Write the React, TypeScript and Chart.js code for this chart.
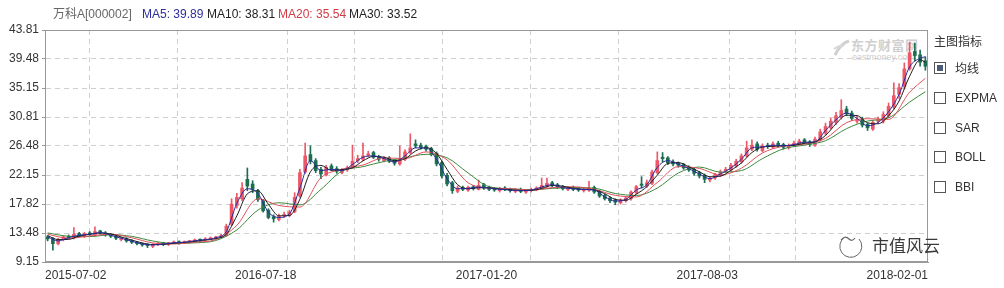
import React, { useEffect, useRef } from 'react';
import { Chart, registerables } from 'chart.js';

Chart.register(...registerables);

// ---------- data ----------
const stockName = '万科A[000002]';
const maNames = ['MA5', 'MA10', 'MA20', 'MA30'];
const maLatest = ['39.89', '38.31', '35.54', '33.52'];
const indicatorTitle = '主图指标';
const indicators = ['均线', 'EXPMA', 'SAR', 'BOLL', 'BBI'];
const dateLabels = ['2015-07-02', '2016-07-18', '2017-01-20', '2017-08-03', '2018-02-01'];
const yTickLabels = ['9.15', '13.48', '17.82', '22.15', '26.48', '30.81', '35.15', '39.48', '43.81'];
const yMin = 9.15;
const yMax = 43.81;

const opens = [
  12.9, 12.6, 11.9, 12.5, 13.0, 12.8, 13.4, 13.0, 13.5, 13.2,
  13.8, 13.5, 13.2, 13.0, 12.5, 12.6, 12.3, 12.1, 11.9, 11.8,
  11.5, 11.8, 12.0, 11.8, 12.0, 12.2, 12.0, 12.2, 12.3, 12.5,
  12.4, 12.6, 12.7, 12.9, 13.1, 14.8, 17.6, 18.6, 21.5, 20.8,
  19.8, 18.3, 16.9, 15.9, 15.5, 16.1, 16.1, 16.7, 19.0, 22.6,
  25.2, 24.3, 23.0, 22.2, 23.5, 23.1, 22.5, 22.9, 23.3, 24.3,
  24.5, 25.1, 25.5, 24.9, 24.3, 24.7, 24.3, 23.8, 24.5, 25.5,
  26.8, 26.6, 26.4, 26.1, 25.4, 24.0, 22.1, 21.0, 19.7, 20.3,
  19.9, 20.4, 20.0, 20.7, 20.3, 20.1, 19.8, 20.2, 20.0, 19.7,
  20.0, 19.6, 19.8, 19.9, 20.2, 20.5, 21.0, 20.7, 20.4, 20.0,
  20.3, 20.1, 19.8, 19.9, 20.3, 19.7, 19.1, 18.7, 18.4, 18.0,
  18.3, 18.6, 19.5, 20.8, 20.5, 20.9, 22.5, 24.8, 24.7, 24.1,
  23.9, 23.7, 23.3, 23.0, 22.5, 22.1, 21.4, 21.7, 22.1, 22.7,
  22.9, 23.5, 24.1, 25.0, 26.0, 26.8, 25.8, 26.6, 26.3, 26.9,
  26.7, 26.2, 26.6, 26.8, 27.4, 27.1, 26.6, 27.4, 28.4, 29.2,
  30.0, 30.8, 32.0, 31.4, 30.2, 30.5, 29.7, 29.0, 30.2, 30.2,
  31.0, 32.3, 34.2, 35.4, 38.0, 40.6, 40.1, 39.2,
];
const closes = [
  12.6, 11.9, 12.5, 12.9, 12.8, 13.3, 13.1, 13.4, 13.3, 13.7,
  13.5, 13.2, 13.0, 12.7, 12.6, 12.3, 12.1, 11.9, 11.7, 11.6,
  11.8, 11.9, 11.8, 12.0, 12.1, 12.0, 12.2, 12.3, 12.4, 12.4,
  12.6, 12.7, 12.9, 13.1, 14.5, 17.8, 18.8, 20.2, 20.5, 20.0,
  18.5, 16.8, 15.8, 15.6, 16.0, 16.2, 16.6, 18.8, 22.5, 25.0,
  24.2, 22.8, 22.3, 23.3, 23.0, 22.7, 22.8, 23.2, 24.2, 24.6,
  25.0, 25.3, 24.8, 24.5, 24.6, 24.2, 23.9, 24.6, 25.6, 26.2,
  26.5, 26.3, 26.0, 25.3, 23.8, 22.0, 20.8, 19.8, 20.2, 20.0,
  20.3, 20.1, 20.6, 20.2, 20.0, 19.9, 20.1, 20.0, 19.8, 19.9,
  19.7, 19.8, 20.0, 20.2, 20.6, 20.9, 20.6, 20.3, 20.1, 20.2,
  20.0, 19.9, 20.0, 20.2, 19.6, 19.0, 18.6, 18.3, 18.1, 18.4,
  18.7, 19.6, 20.4, 20.6, 21.0, 22.6, 24.3, 24.6, 24.0, 23.8,
  23.6, 23.2, 22.9, 22.4, 22.0, 21.5, 21.6, 22.2, 22.6, 23.0,
  23.6, 24.2, 25.0, 26.2, 26.6, 26.0, 26.5, 26.4, 26.8, 26.6,
  26.3, 26.5, 26.9, 27.2, 27.0, 26.7, 27.5, 28.6, 29.4, 30.2,
  31.0, 31.8, 31.3, 30.6, 30.4, 29.6, 29.2, 30.0, 30.4, 31.2,
  32.4, 34.0, 35.2, 38.0, 40.4, 40.0, 39.0, 38.4,
];
const highs = [
  13.1, 12.8, 12.7, 13.1, 13.2, 14.3, 13.6, 13.6, 13.7, 14.4,
  13.9, 13.7, 13.4, 13.1, 12.9, 12.8, 12.5, 12.2, 12.0, 11.9,
  11.9, 12.1, 12.1, 12.1, 12.3, 12.3, 12.3, 12.4, 12.6, 12.6,
  12.8, 12.9, 13.0, 13.3, 14.8, 18.6, 19.4, 21.0, 23.2, 21.3,
  20.0, 18.5, 17.1, 16.2, 16.3, 16.6, 16.9, 19.5, 23.0, 26.9,
  26.5, 24.6, 23.3, 23.6, 23.8, 23.4, 23.1, 23.5, 26.6, 25.1,
  26.9, 25.7, 25.7, 25.1, 24.9, 24.9, 24.5, 26.5, 25.9, 28.3,
  27.4, 26.9, 26.6, 26.3, 25.6, 24.2, 22.4, 21.2, 20.5, 20.5,
  20.5, 20.6, 21.4, 20.9, 20.5, 20.3, 20.3, 20.4, 20.2, 20.1,
  20.2, 20.0, 20.2, 20.4, 21.7, 21.7, 21.2, 20.9, 20.6, 20.4,
  20.5, 20.3, 20.2, 21.2, 20.5, 19.9, 19.3, 18.9, 18.6, 18.6,
  18.9, 19.8, 20.6, 21.9, 21.4, 22.9, 25.6, 25.5, 24.9, 24.4,
  24.1, 23.9, 23.5, 23.2, 22.7, 22.3, 21.9, 22.4, 22.9, 23.3,
  23.9, 24.5, 25.3, 27.2, 27.4, 27.1, 26.8, 26.9, 27.1, 27.2,
  26.9, 26.8, 27.2, 27.5, 27.6, 27.3, 27.8, 29.0, 29.9, 30.6,
  31.5, 33.4, 32.4, 31.7, 30.9, 30.8, 29.9, 30.3, 30.8, 31.6,
  32.9, 35.9, 35.8, 38.9, 42.0, 41.8, 40.8, 39.8,
];
const lows = [
  12.3, 10.9, 11.7, 12.3, 12.6, 12.6, 12.9, 12.8, 13.1, 13.0,
  13.3, 13.0, 12.8, 12.5, 12.3, 12.1, 11.9, 11.7, 11.5, 11.3,
  11.3, 11.6, 11.6, 11.6, 11.9, 11.8, 11.9, 12.0, 12.1, 12.2,
  12.3, 12.5, 12.6, 12.8, 13.0, 14.6, 17.2, 18.3, 19.8, 19.5,
  18.2, 16.6, 15.6, 15.1, 15.3, 15.8, 15.9, 16.5, 18.8, 22.4,
  23.8, 22.5, 21.6, 22.0, 22.8, 22.4, 22.3, 22.7, 23.1, 24.0,
  24.3, 24.9, 24.6, 24.2, 24.1, 24.0, 23.6, 23.6, 24.3, 25.3,
  26.2, 26.0, 25.7, 25.0, 23.5, 21.7, 20.5, 19.4, 19.5, 19.8,
  19.7, 19.9, 19.9, 20.0, 19.8, 19.7, 19.6, 19.8, 19.6, 19.5,
  19.5, 19.4, 19.6, 19.8, 20.0, 20.3, 20.4, 20.1, 19.9, 19.8,
  19.8, 19.7, 19.6, 19.7, 19.4, 18.8, 18.4, 18.0, 17.7, 17.8,
  18.1, 18.4, 19.3, 20.2, 20.3, 20.7, 22.3, 24.1, 23.7, 23.5,
  23.3, 23.0, 22.7, 22.1, 21.7, 21.0, 21.1, 21.5, 21.9, 22.5,
  22.7, 23.3, 23.9, 24.8, 25.8, 25.7, 25.6, 26.1, 26.1, 26.3,
  26.0, 26.0, 26.4, 26.6, 26.8, 26.4, 26.4, 27.2, 28.1, 29.0,
  29.7, 30.5, 31.0, 30.3, 29.9, 29.3, 28.8, 28.8, 29.9, 29.9,
  30.7, 32.0, 33.6, 35.0, 37.8, 39.2, 38.4, 37.8,
];

// fast moving averages (MA5, MA10), read every 2 candles
const maFastIndex = [
  0, 2, 4, 6, 8, 10, 12, 14, 16, 18, 20, 22, 24, 26, 28, 30, 32, 34, 36, 38,
  40, 42, 44, 46, 48, 50, 52, 54, 56, 58, 60, 62, 64, 66, 68, 70, 72, 74, 76, 78,
  80, 82, 84, 86, 88, 90, 92, 94, 96, 98, 100, 102, 104, 106, 108, 110, 112, 114, 116, 118,
  120, 122, 124, 126, 128, 130, 132, 134, 136, 138, 140, 142, 144, 146, 148, 150, 152, 154, 156, 158,
  160, 162, 164, 166, 167,
];
const ma5 = [
  12.9, 12.3, 12.8, 13.15, 13.3, 13.55, 13.15, 12.7, 12.25, 11.85, 11.7, 11.85, 12.03, 12.1, 12.33, 12.5, 12.78, 13.7, 17.9, 20.1,
  19.4, 16.6, 15.8, 16.35, 20.2, 24.3, 22.8, 23.0, 22.8, 23.7, 24.8, 25.0, 24.6, 24.1, 25.0, 26.2, 26.2, 24.5, 21.6, 20.1,
  20.15, 20.35, 20.2, 20.0, 19.9, 19.8, 19.9, 20.35, 20.7, 20.25, 20.1, 19.97, 19.9, 18.9, 18.25, 18.5, 19.9, 20.7, 23.3, 24.3,
  23.75, 23.1, 22.3, 21.6, 22.3, 23.2, 24.5, 26.2, 26.35, 26.6, 26.5, 26.7, 27.05, 27.1, 28.8, 30.4, 31.4, 30.6, 29.5, 30.0,
  31.6, 34.2, 38.3, 39.6, 39.8,
];
const ma10 = [
  13.1, 12.5, 12.53, 13.03, 13.28, 13.48, 13.35, 12.88, 12.43, 12.0, 11.75, 11.78, 11.95, 12.08, 12.23, 12.43, 12.65, 13.3, 16.05, 19.33,
  19.8, 17.78, 16.05, 16.1, 18.53, 22.63, 23.58, 22.85, 22.95, 23.23, 24.25, 24.93, 24.8, 24.3, 24.58, 25.73, 26.25, 25.35, 22.98, 20.7,
  20.08, 20.25, 20.23, 20.05, 19.95, 19.85, 19.85, 20.15, 20.58, 20.48, 20.15, 20.03, 19.93, 19.35, 18.5, 18.38, 19.28, 20.4, 22.13, 23.88,
  24.0, 23.38, 22.63, 21.88, 21.98, 22.85, 23.95, 25.5, 26.33, 26.43, 26.53, 26.58, 26.9, 27.1, 28.05, 29.8, 31.08, 31.03, 29.95, 29.8,
  31.0, 33.2, 36.9, 39.35, 39.0,
];

// slow moving averages (MA20, MA30), read every 4 candles
const maSlowIndex = [
  0, 4, 8, 12, 16, 20, 24, 28, 32, 36,
  40, 44, 48, 52, 56, 60, 64, 68, 72, 76,
  80, 84, 88, 92, 96, 100, 104, 108, 112, 116,
  120, 124, 128, 132, 136, 140, 144, 148, 152, 156,
  160, 164, 167,
];
const ma20 = [
  13.3, 12.7, 13.04, 13.31, 12.77, 12.0, 11.84, 12.11, 12.5, 14.63,
  18.6, 17.6, 17.36, 21.74, 23.0, 23.64, 24.71, 24.6, 25.59, 24.39,
  20.99, 20.2, 20.09, 19.9, 20.26, 20.39, 20.0, 19.11, 18.87, 21.03,
  23.41, 23.13, 22.17, 23.17, 25.44, 26.46, 26.76, 27.61, 29.97, 30.56,
  30.46, 34.51, 36.6,
];
const ma30 = [
  13.5, 13.0, 12.95, 13.22, 12.98, 12.29, 11.92, 12.01, 12.36, 13.95,
  16.9, 18.0, 17.68, 20.0, 22.74, 23.39, 24.17, 24.71, 25.24, 24.71,
  22.45, 20.4, 20.1, 19.94, 20.15, 20.27, 20.18, 19.39, 19.09, 20.2,
  22.45, 23.34, 22.58, 22.81, 24.59, 26.06, 26.62, 27.27, 29.07, 30.21,
  30.69, 33.04, 34.6,
];

// ---------- styles ----------
const FONT = '"Liberation Sans", Arial, "Noto Sans CJK SC", sans-serif';
const CJK = '"Noto Sans CJK SC", "Liberation Sans", sans-serif';
const UP = '#ec5868';
const DOWN = '#1d6e51';
const MA_COLORS = ['#2a2a9e', '#1c1c1c', '#e0505a', '#3d8a3d'];
const LEGEND_COLORS = ['#2d2d9e', '#222222', '#d23a44', '#222222'];
const GRID = '#cfcfcf';
const FRAME = '#999999';

const framePlugin = {
  id: 'frame',
  afterDatasetsDraw(chart: any) {
    const { ctx, chartArea } = chart;
    const l = Math.round(chartArea.left) + 0.5;
    const t = Math.round(chartArea.top) + 0.5;
    const r = Math.round(chartArea.right) - 0.5;
    const b = Math.round(chartArea.bottom) - 0.5;
    ctx.save();
    ctx.strokeStyle = FRAME;
    ctx.lineWidth = 1;
    ctx.strokeRect(l, t, r - l, b - t);
    ctx.restore();
  },
};

export default function App() {
  const ref = useRef<HTMLCanvasElement | null>(null);

  useEffect(() => {
    if (!ref.current) return;
    const N = closes.length;
    const span = N;
    const xMin = -0.5;
    const xTicks: { value: number; label: string; grid: boolean }[] = [];
    for (let k = 0; k <= 10; k++) {
      xTicks.push({ value: xMin + (span * k) / 10, label: '', grid: k > 0 && k < 10 });
    }
    dateLabels.forEach((lab, j) => {
      const v = xMin + (span * j) / (dateLabels.length - 1);
      const hit = xTicks.find((t) => Math.abs(t.value - v) < 1e-6);
      if (hit) hit.label = lab;
      else xTicks.push({ value: v, label: lab, grid: false });
    });
    xTicks.sort((a, b) => a.value - b.value);

    const colors = closes.map((c, i) => (c >= opens[i] ? UP : DOWN));
    const maSeries = [
      { idx: maFastIndex, vals: ma5 },
      { idx: maFastIndex, vals: ma10 },
      { idx: maSlowIndex, vals: ma20 },
      { idx: maSlowIndex, vals: ma30 },
    ];

    const chart = new Chart(ref.current, {
      type: 'bar',
      data: {
        datasets: [
          ...maSeries.map((s, m) => ({
            type: 'line' as const,
            label: maNames[m],
            data: s.idx.map((x, k) => ({ x, y: s.vals[k] })),
            borderColor: MA_COLORS[m],
            borderWidth: 1,
            pointRadius: 0,
            cubicInterpolationMode: 'monotone' as const,
            order: 0,
          })),
          {
            type: 'bar' as const,
            label: 'wick',
            data: closes.map((_, i) => ({ x: i, y: [lows[i], highs[i]] })),
            backgroundColor: colors,
            barThickness: 1,
            grouped: false,
            order: 2,
          },
          {
            type: 'bar' as const,
            label: 'body',
            data: closes.map((c, i) => ({ x: i, y: [opens[i], c] })),
            backgroundColor: colors,
            barThickness: 3,
            minBarLength: 1,
            grouped: false,
            order: 1,
          },
        ] as any,
      },
      options: {
        responsive: false,
        animation: false,
        events: [],
        layout: { padding: { top: 30, right: 76, left: 0, bottom: 0 } },
        plugins: { legend: { display: false }, tooltip: { enabled: false }, title: { display: false } },
        scales: {
          x: {
            type: 'linear',
            min: xMin,
            max: N - 0.5,
            offset: false,
            afterBuildTicks: (s: any) => {
              s.ticks = xTicks.map((t) => ({ value: t.value }));
            },
            afterFit: (s: any) => {
              s.height = 26;
            },
            grid: {
              color: (c: any) => (xTicks[c.index] && xTicks[c.index].grid ? GRID : 'rgba(0,0,0,0)'),
              lineWidth: 1,
              drawTicks: false,
            },
            border: { display: true, color: FRAME, dash: [5, 4] },
            ticks: {
              autoSkip: false,
              maxRotation: 0,
              minRotation: 0,
              align: 'inner',
              padding: 6,
              color: '#333',
              font: { family: FONT, size: 12 },
              callback: (_v: any, i: number) => (xTicks[i] ? xTicks[i].label : ''),
            },
          },
          y: {
            type: 'linear',
            min: yMin,
            max: yMax,
            afterBuildTicks: (s: any) => {
              s.ticks = yTickLabels.map((_, k) => ({
                value: yMin + ((yMax - yMin) * k) / (yTickLabels.length - 1),
              }));
            },
            afterFit: (s: any) => {
              s.width = 45;
            },
            grid: {
              color: (c: any) => (c.index === 0 || c.index === yTickLabels.length - 1 ? 'rgba(0,0,0,0)' : GRID),
              lineWidth: 1,
              drawTicks: true,
              tickLength: 3,
              tickColor: FRAME,
            },
            border: { display: true, color: FRAME, dash: [5, 4] },
            ticks: {
              padding: 3,
              color: '#333',
              font: { family: FONT, size: 12 },
              callback: (_v: any, i: number) => yTickLabels[i],
            },
          },
        },
      } as any,
      plugins: [framePlugin],
    });
    return () => chart.destroy();
  }, []);

  const legendX = [53, 142, 207, 278, 349];
  const itemY = [68, 98, 128, 157, 187];

  return (
    <div
      style={{
        position: 'fixed',
        left: 0,
        top: 0,
        width: 1004,
        height: 288,
        background: '#fff',
        overflow: 'hidden',
        fontFamily: FONT,
      }}
    >
      {/* watermark */}
      <div style={{ position: 'absolute', left: 832, top: 37, width: 90, height: 26, color: '#cfcfcf' }}>
        <svg width="18" height="20" style={{ position: 'absolute', left: 0, top: 2 }}>
          <path d="M3 16 Q9 4 17 2" stroke="#d0d0d0" strokeWidth="3" fill="none" />
          <path d="M2 10 Q7 6 12 7" stroke="#d8d8d8" strokeWidth="2" fill="none" />
        </svg>
        <div style={{ position: 'absolute', left: 19, top: 0, fontFamily: CJK, fontSize: 13, fontWeight: 700, lineHeight: '15px', letterSpacing: 0.5, whiteSpace: 'nowrap' }}>
          东方财富网
        </div>
        <div style={{ position: 'absolute', left: 20, top: 15, fontSize: 9, lineHeight: '10px', whiteSpace: 'nowrap' }}>
          eastmoney.com
        </div>
      </div>

      <canvas ref={ref} width={1004} height={288} style={{ position: 'absolute', left: 0, top: 0, display: 'block' }} />

      {/* title legend */}
      <span style={{ position: 'absolute', left: legendX[0], top: 7, fontSize: 12, lineHeight: '14px', color: '#666', whiteSpace: 'nowrap' }}>
        {stockName}
      </span>
      {maNames.map((n, m) => (
        <span
          key={n}
          style={{ position: 'absolute', left: legendX[m + 1], top: 7, fontSize: 12, lineHeight: '14px', color: LEGEND_COLORS[m], whiteSpace: 'nowrap' }}
        >
          {n}: {maLatest[m]}
        </span>
      ))}

      {/* right indicator panel */}
      <div style={{ position: 'absolute', left: 934, top: 34, fontFamily: CJK, fontSize: 12, lineHeight: '14px', color: '#333', whiteSpace: 'nowrap' }}>
        {indicatorTitle}
      </div>
      {indicators.map((name, i) => (
        <div key={name} style={{ position: 'absolute', left: 934, top: itemY[i] - 7, height: 14, width: 70 }}>
          <div
            style={{
              position: 'absolute',
              left: 0,
              top: 1,
              width: 10,
              height: 10,
              border: '1px solid #555',
              background: '#fff',
            }}
          >
            {i === 0 ? (
              <div style={{ position: 'absolute', left: 2, top: 2, width: 6, height: 6, background: '#4a5a78' }} />
            ) : null}
          </div>
          <span
            style={{
              position: 'absolute',
              left: 21,
              top: 0,
              fontFamily: i === 0 ? CJK : FONT,
              fontSize: 12,
              lineHeight: '14px',
              color: '#333',
              whiteSpace: 'nowrap',
            }}
          >
            {name}
          </span>
        </div>
      ))}

      {/* bottom-right logo */}
      <svg width="30" height="28" style={{ position: 'absolute', left: 836, top: 231 }}>
        <path d="M9 6 A11 11 0 1 0 23 8" stroke="#666" strokeWidth="1" fill="none" />
        <path d="M5 9 Q9 4 13 8 Q16 11 19 7" stroke="#666" strokeWidth="1.2" fill="none" />
      </svg>
      <div style={{ position: 'absolute', left: 872, top: 235, fontFamily: CJK, fontSize: 17, lineHeight: '20px', color: '#3a3a3a', whiteSpace: 'nowrap' }}>
        市值风云
      </div>
    </div>
  );
}
